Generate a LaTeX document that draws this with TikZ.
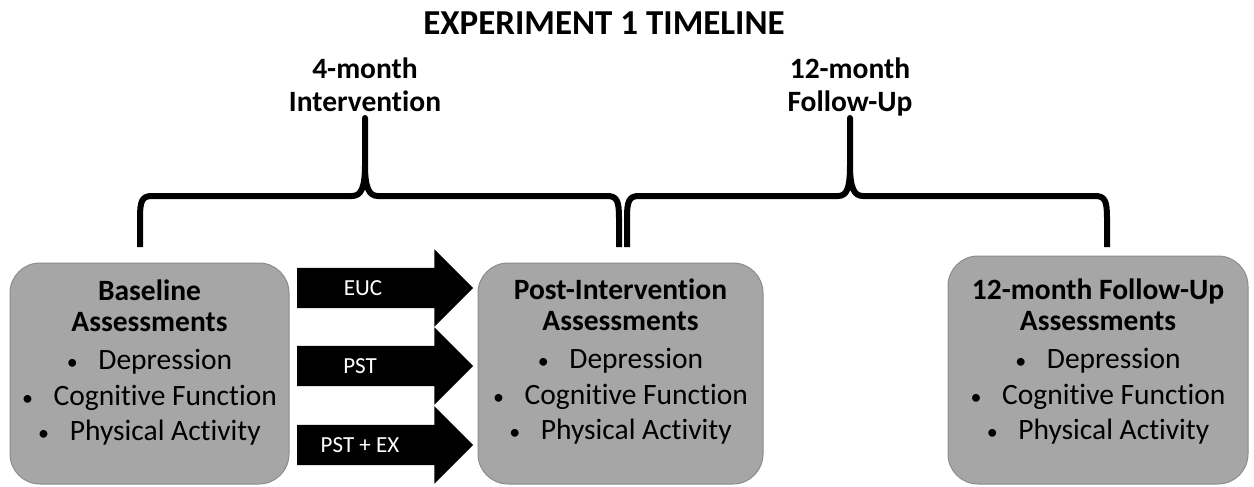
\documentclass[tikz,border=0pt]{standalone}
\usepackage{fontspec}
\setmainfont{Carlito}[Ligatures=NoCommon]
\usepackage{tikz}
\usetikzlibrary{shapes.arrows,positioning}
\definecolor{cbox}{HTML}{A6A6A6}
\definecolor{cboxline}{HTML}{8C8C8C}
\newcommand{\bul}{{\fontsize{22}{22}\selectfont•}\hspace{0.7em}}

\begin{document}
\begin{tikzpicture}[x=1pt,y=-1pt,
  assess/.style={rectangle,rounded corners=30pt,draw=cboxline,line width=1pt,fill=cbox,inner sep=0pt},
  assesstxt/.style={align=center,inner sep=0pt,font=\fontsize{29.5}{36}\selectfont},
  grp/.style={single arrow,fill=black,text=white,font=\fontsize{23}{27}\selectfont,
    minimum height=176pt,minimum width=77pt,single arrow head extend=18.5pt,
    text height=15pt,text depth=0pt,inner ysep=12.5pt,inner xsep=0pt},
  bracelbl/.style={align=center,inner sep=0pt,font=\fontsize{29.5}{34}\selectfont\bfseries},
  brace/.style={line width=6pt,line join=round}]

  \fill[white] (0,0) rectangle (1254,487);
  \useasboundingbox (0,0) rectangle (1254,487);

  % title
  \node[anchor=base,inner sep=0pt,font=\fontsize{35}{40}\selectfont\bfseries] (title) at (604,35) {EXPERIMENT 1 TIMELINE};

  % brace labels
  \node[bracelbl,anchor=base] (intlbl) at (365,112) {4-month\\Intervention};
  \node[bracelbl,anchor=base] (fuplbl) at (850,112) {12-month\\Follow-Up};

  % braces
  \draw[brace] (140,247) -- (140,218) .. controls (140,201) and (142,196) .. (152,196) -- (352,196)
    .. controls (361,196) and (365,188) .. (365,165) -- (365,118) -- (365,165)
    .. controls (365,188) and (369,196) .. (378,196) -- (607,196)
    .. controls (617,196) and (619,201) .. (619,218) -- (619,247);
  \draw[brace] (627,247) -- (627,218) .. controls (627,201) and (629,196) .. (639,196) -- (838,196)
    .. controls (847,196) and (850,188) .. (850,165) -- (850,118) -- (850,165)
    .. controls (850,188) and (854,196) .. (863,196) -- (1095,196)
    .. controls (1105,196) and (1107,201) .. (1107,218) -- (1107,247);

  % assessment boxes
  \node[assess,minimum width=279pt,minimum height=221pt] (base) at (149.5,373.5) {};
  \node[assesstxt,anchor=base] (basetxt) at ([yshift=-178pt]base.north)
    {\textbf{Baseline}\\[-5pt]\textbf{Assessments}\\[2pt]
     \bul Depression\\\bul Cognitive Function\\[-1pt]\bul Physical Activity};

  \node[assess,minimum width=285pt,minimum height=221pt] (post) at (620.5,373.5) {};
  \node[assesstxt,anchor=base] (posttxt) at ([yshift=-177pt]post.north)
    {\textbf{Post-Intervention}\\[-5pt]\textbf{Assessments}\\[2pt]
     \bul Depression\\\bul Cognitive Function\\[-1pt]\bul Physical Activity};

  \node[assess,minimum width=300pt,minimum height=228pt] (fup) at (1098,370) {};
  \node[assesstxt,anchor=base] (fuptxt) at ([yshift=-184pt]fup.north)
    {\textbf{12-month Follow-Up}\\[-5pt]\textbf{Assessments}\\[2pt]
     \bul Depression\\\bul Cognitive Function\\[-1pt]\bul Physical Activity};

  % treatment arms
  \node[grp] (euc) at (375,288) {EUC\hspace*{24pt}};
  \node[grp] (pst) at (375,366) {PST\hspace*{30pt}};
  \node[grp] (pstex) at (375,445) {PST + EX\hspace*{30pt}};
\end{tikzpicture}
\end{document}
